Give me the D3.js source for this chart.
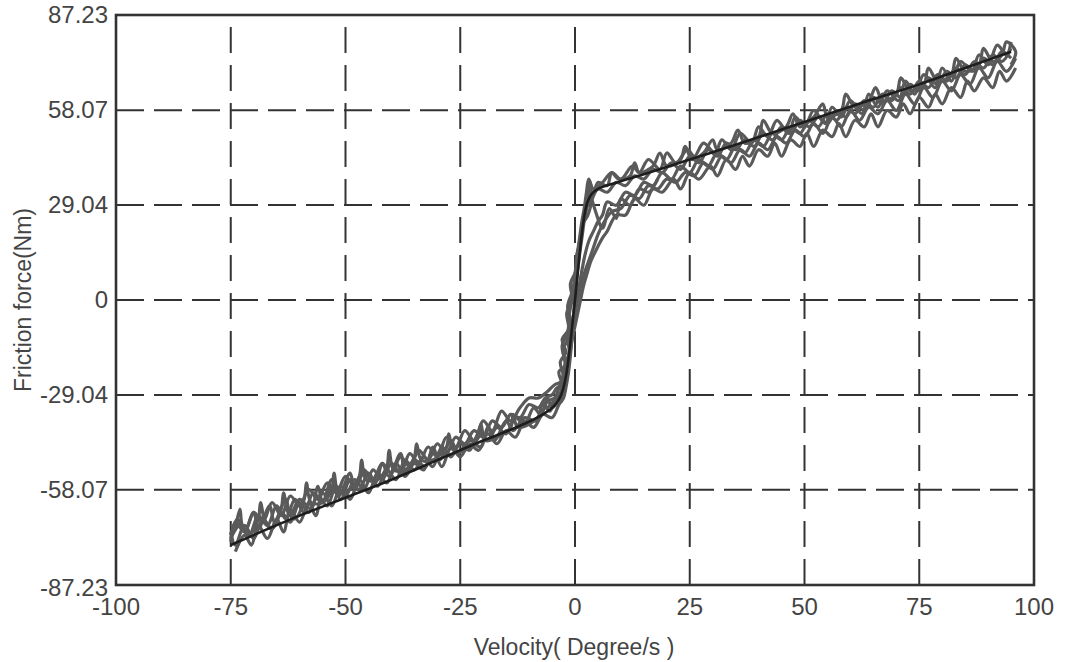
<!DOCTYPE html>
<html>
<head>
<meta charset="utf-8">
<script src="https://cdn.jsdelivr.net/npm/d3@7"></script>
<style>
  html, body { margin: 0; padding: 0; background: #fff; }
  text { font-family: "Liberation Sans", Arial, sans-serif; fill: #444; }
</style>
</head>
<body>
<svg id="chart" width="1066" height="662"></svg>
<script>
// tick values / labels
var xTicks = [-100, -75, -50, -25, 0, 25, 50, 75, 100];
var yTicks = [-87.23, -58.07, -29.04, 0, 29.04, 58.07, 87.23];
var yTickLabels = ["-87.23", "-58.07", "-29.04", "0", "29.04", "58.07", "87.23"];

// friction model curve (velocity, force)
var modelV = [-75, -60, -50, -40, -30, -20, -12, -7, -5, -4, -3, -2.2, -1.6, -1, -0.5, 0, 0.5, 1, 1.5, 2, 2.6, 3.2, 4, 5, 8, 15, 25, 35, 50, 65, 75, 85, 95];
var modelF = [-75, -66, -60.5, -55, -49, -43, -38.5, -35, -33, -31.5, -29, -25, -20, -13, -6.5, 0, 7, 14, 20.5, 25.5, 29.5, 31.5, 33, 34, 35.5, 38.5, 43, 47.5, 54.5, 61.5, 66, 71, 76];

// measured runs [velocity, force]
var run1 = [[-75,-72],[-73.5,-67],[-72,-71],[-70,-65],[-69,-70],[-66.5,-63],[-65.5,-68],[-63,-61],[-62,-66],[-60,-61],[-57.5,-64],[-56,-57],[-55,-62],[-53,-55],[-51.5,-60],[-49,-53],[-48,-58],[-46,-53],[-43.5,-56],[-42,-50],[-40.5,-54],[-38,-47],[-37,-53],[-35,-49],[-32.5,-51],[-31,-45],[-29.5,-49],[-27,-43],[-25.5,-47],[-23,-43],[-20.5,-45],[-19,-39],[-17.5,-43],[-15,-37],[-13.5,-40],[-11,-36],[-8.5,-37],[-7,-32],[-5.5,-34],[-4,-30],[-3,-31],[-2.5,-25],[-2,-20],[-2.6,-15],[-1.5,-12],[-1,-6],[-1.6,-2],[-0.5,3],[0,8],[0.5,14],[1,19],[1.5,24],[2,28],[2.5,33],[3,37],[4,34],[6,36],[8,39],[10,37],[12.5,41],[14,39],[16,43],[18.5,40],[20,45],[22,42],[24.5,46],[26,44],[28,48],[30.5,45],[32,49],[34,46],[36,51],[38.5,48],[40,53],[42,50],[44,55],[46.5,51],[48,56],[50,53],[52,58],[54.5,54],[56,59],[58,56],[60,61],[62.5,57],[64,63],[66,59],[68,64],[70.5,61],[72,67],[74,63],[76,69],[78.5,65],[80,71],[82,67],[84,73],[86.5,70],[88,75],[90,72],[92,78],[94,75],[95,79]];
var run2 = [[96,74],[94,70],[92,73],[90,68],[88,71],[86,66],[84,69],[82,64],[80,67],[78,62],[76,65],[74,60],[72,63],[70,58],[68,61],[66,57],[64,59],[62,55],[60,58],[58,53],[56,56],[54,51],[52,54],[50,50],[48,52],[46,48],[44,50],[42,46],[40,48],[38,44],[36,46],[34,42],[32,44],[30,40],[28,42],[26,38],[24,39],[22,36],[20,37],[18,34],[16,35],[14,31],[12,32],[10,28],[8,27],[6,23],[5,20],[4,16],[3,12],[2,8],[1.2,4],[0.6,0],[0,-4],[-0.5,-8],[-1,-12],[-1.3,-16],[-1.8,-20],[-2.3,-24],[-3,-26],[-4,-27],[-5,-29],[-6.5,-30],[-8,-33],[-10,-32],[-12,-36],[-14,-35],[-16,-39],[-18,-37],[-20,-42],[-22,-40],[-24,-44],[-26,-42],[-28,-47],[-30,-44],[-32,-49],[-34,-46],[-36,-51],[-38,-48],[-40,-53],[-42,-50],[-44,-55],[-46,-52],[-48,-57],[-50,-54],[-52,-59],[-54,-56],[-56,-61],[-58,-58],[-60,-63],[-62,-60],[-64,-66],[-66,-62],[-68,-68],[-70,-65],[-72,-71],[-74,-68],[-75,-74]];
var run3 = [[-74,-77],[-72,-72],[-70.5,-75],[-69,-69],[-67,-73],[-65,-67],[-63.5,-71],[-62,-64],[-60,-68],[-58,-62],[-56.5,-66],[-55,-59],[-53,-63],[-51,-57],[-49,-61],[-47,-55],[-45,-59],[-43,-53],[-41,-56],[-39,-50],[-37,-54],[-35,-50],[-33,-52],[-31,-46],[-29,-51],[-27,-45],[-25,-48],[-23,-44],[-21,-46],[-19,-41],[-17,-44],[-15,-40],[-13,-42],[-11,-37],[-9,-39],[-7,-35],[-5,-36],[-3.5,-32],[-2.5,-30],[-2,-27],[-1.4,-22],[-1,-17],[-0.6,-10],[-0.3,-4],[0.1,2],[0.5,8],[1,14],[1.6,20],[2.2,26],[3,30],[4,32],[5,34],[7,33],[9,36],[11,35],[13,38],[15,37],[17,40],[19,39],[21,42],[23,40],[25,44],[27,42],[29,46],[31,44],[33,48],[35,46],[37,49],[39,47],[41,51],[43,49],[45,53],[47,51],[49,55],[51,53],[53,56],[55,54],[57,58],[59,56],[61,60],[63,58],[65,62],[67,60],[69,64],[71,62],[73,66],[75,64],[77,68],[79,66],[81,70],[83,68],[85,72],[87,70],[89,74],[91,72],[93,76],[95,74]];
var run4 = [[95,77],[93,73],[91,75],[89,71],[87,73],[85,69],[83,71],[81,67],[79,69],[77,65],[75,67],[73,63],[71,65],[69,61],[67,63],[65,59],[63,61],[61,57],[59,59],[57,55],[55,57],[53,53],[51,55],[49,51],[47,53],[45,49],[43,51],[41,47],[39,49],[37,45],[35,47],[33,43],[31,45],[29,41],[27,43],[25,39],[23,41],[21,37],[19,39],[17,35],[15,36],[13,32],[11,33],[9,29],[7,30],[6,26],[5,24],[4,21],[3,18],[2.2,14],[1.5,9],[1,5],[0.4,0],[-0.2,-5],[-0.8,-10],[-1.6,-12],[-1.2,-16],[-2,-19],[-2.6,-23],[-3.5,-27],[-4.5,-30],[-6,-31],[-7.5,-35],[-9,-33],[-11,-38],[-13,-36],[-15,-41],[-17,-39],[-19,-43],[-21,-41],[-23,-46],[-25,-44],[-27,-48],[-29,-45],[-31,-51],[-33,-48],[-35,-52],[-37,-49],[-39,-55],[-41,-52],[-43,-57],[-45,-53],[-47,-58],[-49,-55],[-51,-61],[-53,-57],[-55,-62],[-57,-59],[-59,-65],[-61,-61],[-63,-67],[-65,-63],[-67,-69],[-69,-66],[-71,-72],[-73,-69],[-75,-73]];
var run5 = [[-74,-70],[-73,-64],[-72.5,-69],[-71,-72],[-69,-67],[-68.5,-62],[-67.5,-68],[-66,-70],[-64,-64],[-63.5,-59],[-62.5,-65],[-61,-67],[-59,-61],[-58.5,-56],[-57.5,-62],[-55,-62],[-53,-58],[-52.5,-53],[-51.5,-59],[-49,-58],[-47,-54],[-46.5,-49],[-45.5,-55],[-43,-55],[-41,-51],[-40.5,-46],[-39.5,-52],[-37,-52],[-35,-48],[-34.5,-44],[-33.5,-49],[-31,-49],[-28,-45],[-27.5,-41],[-26.5,-46],[-24,-46],[-21,-42],[-20.5,-38],[-19.5,-43],[-17,-42],[-14,-39],[-13.5,-35],[-12.5,-39],[-10,-38],[-7,-34],[-6,-30],[-5,-33],[-3.5,-30],[-2.8,-26],[-3.5,-22],[-2.2,-20],[-2.8,-14],[-1.6,-10],[-1.2,-4],[-0.4,2],[0.3,10],[0.9,17],[1.8,24],[2.6,30],[3.3,36],[3.8,31],[5,36],[7,35],[8,39],[9.5,37],[12,38],[13,42],[14,39],[17,41],[18.5,45],[20,41],[23,43],[24,47],[25.5,43],[28,45],[30,49],[31,46],[34,48],[35.5,52],[37,48],[40,50],[41,55],[43,51],[46,53],[47.5,57],[49,53],[52,56],[54,60],[55,56],[58,58],[59,63],[61,59],[64,61],[65.5,65],[67,61],[70,63],[71,68],[73,64],[76,66],[77,71],[79,67],[82,69],[83,74],[85,70],[88,72],[89,77],[91,73],[93,75],[94,79],[96,76],[95,72]];
var run6 = [[96,71],[94,67],[92.5,70],[91,65],[89,68],[87,64],[85.5,67],[84,62],[82,65],[80,60],[78.5,63],[77,59],[75,62],[73,57],[71.5,60],[70,56],[68,58],[66,53],[64.5,57],[63,53],[61,55],[59,50],[57.5,54],[56,50],[54,52],[52,47],[50.5,51],[49,47],[47,49],[45,44],[43.5,48],[42,44],[40,46],[38,41],[36.5,44],[35,40],[33,43],[31,38],[29.5,41],[27,37],[25,39],[23,34],[21.5,37],[19,33],[17,34],[15,29],[13,31],[11,26],[9,26],[7,21],[6,19],[4.5,15],[3.5,12],[2.6,8],[1.8,4],[1.2,0],[0.6,-4],[0,-8],[-0.6,-12],[-1.2,-17],[-2,-22],[-3,-25],[-4.5,-26],[-6,-28],[-8,-30],[-10,-30],[-12,-33],[-14,-37],[-16,-34],[-18,-40],[-20,-37],[-22,-43],[-24,-40],[-26,-45],[-28,-42],[-30,-48],[-32,-45],[-34,-50],[-36,-47],[-38,-53],[-40,-50],[-42,-55],[-44,-52],[-46,-58],[-48,-55],[-50,-60],[-52,-57],[-54,-63],[-56,-60],[-58,-65],[-60,-62],[-62,-68],[-64,-65],[-66,-70],[-68,-67],[-70,-73],[-72,-69],[-74,-75],[-75,-71]];
var run7 = [[-6,-33],[-4,-30],[-3,-28],[-2.4,-24],[-3.2,-19],[-2,-16],[-2.8,-12],[-1.4,-9],[-1.8,-4],[-0.6,0],[-1,5],[0.2,9],[0.4,14],[1.2,18],[1.6,23],[2.8,26],[3.5,30],[3,34],[4.5,27],[6,22],[7.5,28],[9,25],[10,31],[12,29],[14,34],[16,33],[18,37]];
var runs = [run1, run2, run3, run4, run5, run6, run7];

var L = 116, R = 1034, T = 15, B = 585;
var svg = d3.select("#chart");
var x = d3.scaleLinear().domain([-100, 100]).range([L, R]);
var y = d3.scaleLinear().domain([-87.23, 87.23]).range([B, T]);

// dashed grid
var gv = xTicks.filter(function(d) { return d > -100 && d < 100; });
var gh = yTicks.filter(function(d) { return Math.abs(d) < 87; });
svg.append("g").selectAll("line").data(gv).enter().append("line")
  .attr("x1", function(d) { return x(d); }).attr("x2", function(d) { return x(d); })
  .attr("y1", B).attr("y2", T)
  .attr("stroke", "#333").attr("stroke-width", 2).attr("stroke-dasharray", "26,12");
svg.append("g").selectAll("line").data(gh).enter().append("line")
  .attr("x1", L).attr("x2", R)
  .attr("y1", function(d) { return y(d); }).attr("y2", function(d) { return y(d); })
  .attr("stroke", "#333").attr("stroke-width", 2).attr("stroke-dasharray", "28,10");

// measured data
var line = d3.line().x(function(d) { return x(d[0]); }).y(function(d) { return y(d[1]); })
  .curve(d3.curveCatmullRom.alpha(0.5));
svg.append("g").selectAll("path").data(runs).enter().append("path")
  .attr("d", line).attr("fill", "none")
  .attr("stroke", "#5a5a5a").attr("stroke-width", 3.2).attr("stroke-linejoin", "round");

// model curve
var model = modelV.map(function(v, i) { return [v, modelF[i]]; });
svg.append("path").datum(model)
  .attr("d", d3.line().x(function(d) { return x(d[0]); }).y(function(d) { return y(d[1]); }).curve(d3.curveMonotoneX))
  .attr("fill", "none").attr("stroke", "#1e1e1e").attr("stroke-width", 2.6);

// frame
svg.append("rect").attr("x", L).attr("y", T).attr("width", R - L).attr("height", B - T)
  .attr("fill", "none").attr("stroke", "#333").attr("stroke-width", 2.6);

// tick labels
svg.append("g").selectAll("text").data(xTicks).enter().append("text")
  .attr("x", function(d) { return x(d); }).attr("y", 615)
  .attr("text-anchor", "middle").attr("font-size", 24)
  .text(function(d) { return d; });
svg.append("g").selectAll("text").data(yTicks).enter().append("text")
  .attr("x", 108).attr("y", function(d) { return y(d) + 8 + (d < -87 ? 3 : 0); })
  .attr("text-anchor", "end").attr("font-size", 24)
  .text(function(d, i) { return yTickLabels[i]; });

// axis titles
svg.append("text").attr("x", 574).attr("y", 655).attr("text-anchor", "middle")
  .attr("font-size", 23).text("Velocity( Degree/s )");
svg.append("text").attr("transform", "translate(31,300) rotate(-90)")
  .attr("text-anchor", "middle").attr("font-size", 23).text("Friction force(Nm)");
</script>
</body>
</html>
